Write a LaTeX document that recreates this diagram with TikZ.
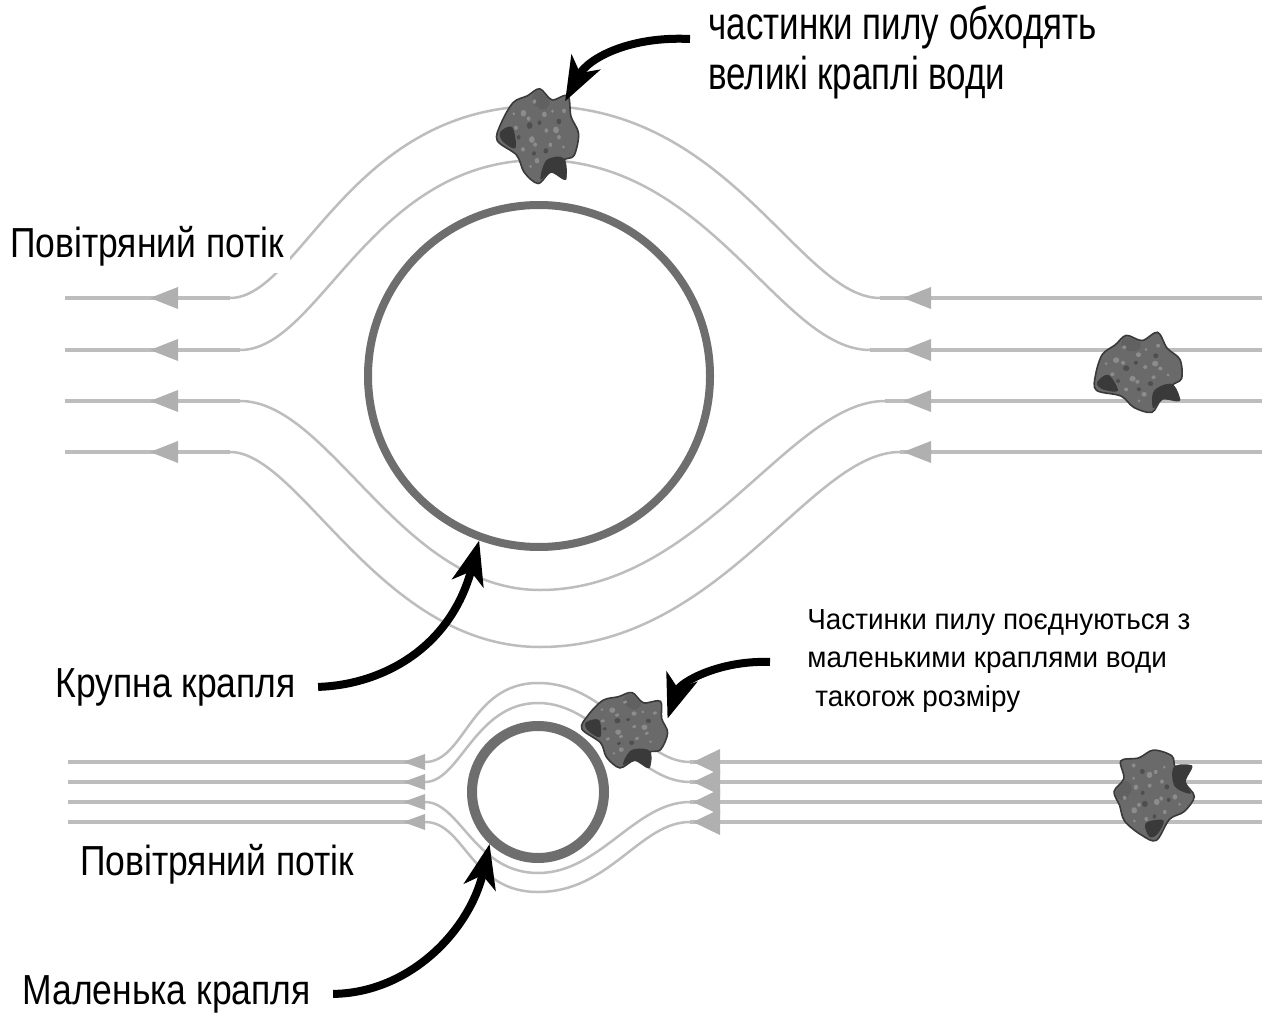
\documentclass[tikz,border=0pt]{standalone}
\usepackage{fontspec}
\setmainfont{Liberation Sans}
\newfontfamily\tagfont[FakeStretch=0.845]{Liberation Sans}
\newfontfamily\notefont[FakeStretch=0.76]{Liberation Sans}
\newfontfamily\smallnotefont[FakeStretch=0.96]{Liberation Sans}
\usetikzlibrary{arrows.meta,positioning,calc}
\definecolor{flowgray}{HTML}{BDBDBD}
\definecolor{headgray}{HTML}{B0B0B0}
\definecolor{ringgray}{HTML}{6E6E6E}
\definecolor{dustmid}{HTML}{6A6A6A}
\definecolor{dustdark}{HTML}{3A3A3A}
\definecolor{dustlight}{HTML}{8C8C8C}
\tikzset{
  ring/.style={circle, draw=ringgray, inner sep=0pt},
  flowline/.style={draw=flowgray, line width=1.25pt},
  flowstraight/.style={draw=flowgray, line width=1.9pt},
  flowhead/.style={fill=headgray},
  grain/.style={circle, inner sep=0pt, outer sep=0pt, minimum size=44pt},
  tag/.style={font=\tagfont\fontsize{21}{25}\selectfont, inner sep=0pt, anchor=base west},
  % multi-line notes: base west sits on the last line
  note/.style={font=\notefont\fontsize{23}{25}\selectfont, inner sep=0pt, anchor=base west, align=left},
  smallnote/.style={font=\smallnotefont\fontsize{14.5}{19.25}\selectfont, inner sep=0pt, anchor=base west, align=left},
  callout/.style={line width=4pt, -{Stealth[length=22pt, width=16pt, inset=6pt]}},
  dust/.pic={
    \fill[dustmid, draw=dustdark, line width=0.8pt] plot[smooth cycle, tension=0.55] coordinates
      {(-40,-6) (-30,-26) (-16,-34) (-4,-42) (10,-34) (26,-40) (32,-22) (42,-8) (40,12) (30,18)
       (34,34) (18,30) (6,42) (-10,34) (-20,20) (-42,10)};
    \fill[dustdark] plot[smooth cycle, tension=0.6] coordinates {(12,20) (30,16) (34,34) (18,30) (8,38)};
    \fill[dustdark] plot[smooth cycle, tension=0.6] coordinates {(-40,2) (-28,-4) (-22,14) (-36,10)};
    \fill[dustdark!80] plot[smooth cycle, tension=0.6] coordinates {(-6,-40) (8,-32) (2,-24) (-10,-30)};
    \foreach \px/\py/\pr in {-18/-18/3, -12/-14/2, 4/-20/2.5, 18/-8/3, 22/-2/2, -6/4/3, -2/8/2,
                             14/6/2, -24/-4/2, 2/22/2.5, 24/-26/2, -8/-30/2, -14/14/2, 8/-6/2,
                             -28/-16/1.5, 28/6/1.5, -4/28/1.5, 12/-24/1.5}
      \fill[dustlight] (\px,\py) circle[radius=\pr];
    \foreach \px/\py/\pr in {-10/-8/3, 10/12/2.5, -20/4/2, 20/-16/2.5, 0/-12/2, -2/16/2}
      \fill[dustdark!90] (\px,\py) circle[radius=\pr];
  }
}

\begin{document}
\begin{tikzpicture}[x=0.5pt, y=-0.5pt]
 \useasboundingbox[fill=white] (0,0) rectangle (1273,1021);

 % large drop and the flow around it
 \foreach \y/\l/\r in {298/230/880, 350/240/870, 401/240/885, 452/230/900}{
   \draw[flowstraight] (65,\y) -- (\l,\y);
   \draw[flowstraight] (\r,\y) -- (1262,\y);
   \fill[flowhead] (150,\y) -- ++(28,-11) -- ++(0,22) -- cycle;
   \fill[flowhead] (903,\y) -- ++(28,-11) -- ++(0,22) -- cycle;
 }
 \draw[flowline] (230,298) .. controls (300,298) and (350,106) .. (540,106) .. controls (730,106) and (800,298) .. (880,298);
 \draw[flowline] (240,350) .. controls (320,350) and (370,160) .. (540,160) .. controls (710,160) and (780,350) .. (870,350);
 \draw[flowline] (240,401) .. controls (330,401) and (400,590) .. (540,590) .. controls (700,590) and (790,401) .. (885,401);
 \draw[flowline] (230,452) .. controls (300,452) and (380,647) .. (540,647) .. controls (720,647) and (810,452) .. (900,452);
 \node[ring, line width=4pt, minimum size=171pt] (big) at (539,376) {};

 % small drop and the flow around it
 \foreach \y in {762,782,802,822}{
   \draw[flowstraight] (68,\y) -- (425,\y);
   \draw[flowstraight] (690,\y) -- (1262,\y);
   \fill[flowhead] (403,\y) -- ++(22,-8) -- ++(0,16) -- cycle;
   \fill[flowhead] (693,\y) -- ++(27,-13) -- ++(0,26) -- cycle;
 }
 \draw[flowline] (425,762) .. controls (465,762) and (470,683) .. (538,683) .. controls (610,683) and (640,762) .. (690,762);
 \draw[flowline] (425,782) .. controls (460,782) and (475,703) .. (538,703) .. controls (600,703) and (635,782) .. (690,782);
 \draw[flowline] (425,802) .. controls (460,802) and (475,873) .. (538,873) .. controls (600,873) and (635,802) .. (690,802);
 \draw[flowline] (425,822) .. controls (465,822) and (470,892) .. (538,892) .. controls (610,892) and (640,822) .. (690,822);
 \node[ring, line width=5pt, minimum size=66pt] (small) at (538,792) {};

 % dust particles
 \node[grain] (dtop) at (538,136) {};
 \node[grain] (dright) at (1138,374) {};
 \node[grain] (dsmall) at (625,730) {};
 \node[grain] (dlow) at (1154,795) {};
 \pic[xscale=0.95, yscale=1.12, rotate=-8] at (dtop) {dust};
 \pic[xscale=1.05, yscale=0.95, rotate=10] at (dright) {dust};
 \pic[xscale=1.0, yscale=0.9, rotate=-15] at (dsmall) {dust};
 \pic[xscale=0.95, yscale=1.05, rotate=80] at (dlow) {dust};

 % labels
 \node[tag, fill=white, inner sep=3pt] (flowtop) at (4,258) {Повітряний потік};
 \node[tag] (bigtag) at (55,697) {Крупна крапля};
 \node[tag] (flowlow) at (80,875) {Повітряний потік};
 \node[tag] (smalltag) at (22,1004) {Маленька крапля};
 \node[note] (topnote) at (708,90) {частинки пилу обходять\\великі краплі води};
 \node[smallnote] (lownote) at (807,706) {Частинки пилу поєднуються з\\маленькими краплями води\\\hspace{4pt}такогож розміру};

 % pointers
 \draw[callout] ($(topnote.base west)+(-18,-51)$) .. controls (630,36) and (588,58) .. (dtop.52);
 \draw[callout] ([xshift=11pt]bigtag.east) .. controls (380,685) and (450,650) .. (big.-110);
 \draw[callout] ($(lownote.base west)+(-37,-44)$) .. controls (720,660) and (680,682) .. (dsmall.15);
 \draw[callout] ([xshift=11pt]smalltag.east) .. controls (410,993) and (470,930) .. (small.-133);
\end{tikzpicture}
\end{document}
